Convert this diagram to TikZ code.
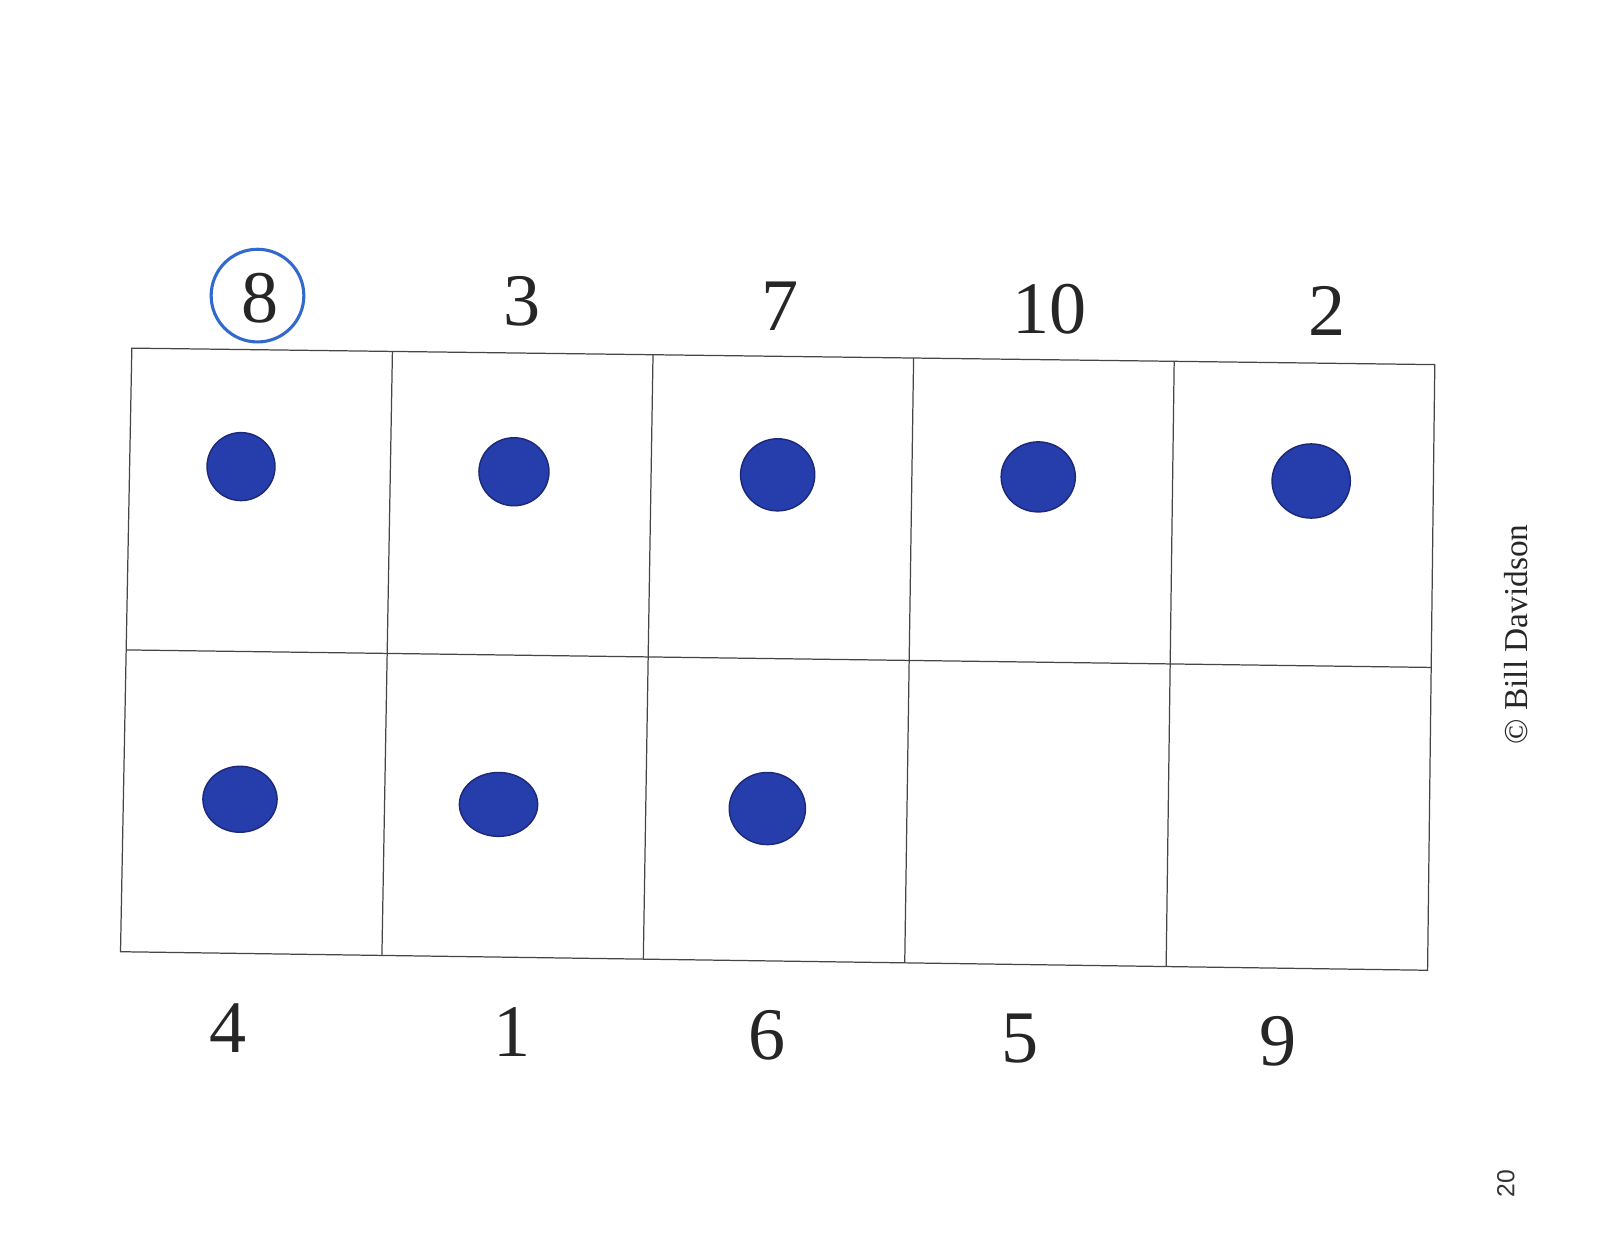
\documentclass[tikz,border=0pt]{standalone}
\usepackage{fontspec}
\usetikzlibrary{calc}
\setmainfont{Liberation Serif}
\newfontfamily\pagefont{Liberation Sans}
\definecolor{dotblue}{RGB}{38,62,172}
\definecolor{dotedge}{RGB}{28,40,120}
\definecolor{ringblue}{RGB}{50,105,205}
\definecolor{gridgray}{RGB}{70,70,70}
\begin{document}
\begin{tikzpicture}[x=0.5pt,y=-0.5pt,
  gridline/.style={draw=gridgray,line width=0.6pt},
  numlabel/.style={font=\fontsize{36}{40}\selectfont,text=black!85,inner sep=0pt,anchor=center},
  dot/.style={fill=dotblue,draw=dotedge,line width=0.7pt}]
\useasboundingbox (0,0) rectangle (1567,1203);
% corners of the grid (slightly rotated scan)
\coordinate (T0) at (128,338);
\coordinate (T5) at (1393,354);
\coordinate (M0) at (123,631);
\coordinate (M5) at (1390,648);
\coordinate (B0) at (117,924);
\coordinate (B5) at (1386,942);
% outer frame and middle line
\draw[gridline] (T0) -- (T5) -- (B5) -- (B0) -- cycle;
\draw[gridline] (M0) -- (M5);
% column separators
\foreach \i in {1,2,3,4}{
  \draw[gridline] ($(T0)!\i/5!(T5)$) -- ($(B0)!\i/5!(B5)$);
}
% dots
\path[dot] (234,453) ellipse [x radius=33,y radius=33];
\path[dot] (499,458) ellipse [x radius=34,y radius=33];
\path[dot] (755,461) ellipse [x radius=36,y radius=35];
\path[dot] (1008,463) ellipse [x radius=36,y radius=34];
\path[dot] (1273,467) ellipse [x radius=38,y radius=36];
\path[dot] (233,776) ellipse [x radius=36,y radius=32];
\path[dot] (484,781) ellipse [x radius=38,y radius=31];
\path[dot] (745,785) ellipse [x radius=37,y radius=35];
% top numbers
\node[numlabel] (n8) at (252,290) {8};
\node[numlabel] (n3) at (507,293) {3};
\node[numlabel] (n7) at (757,297) {7};
\node[numlabel] (n10) at (1019,300) {10};
\node[numlabel] (n2) at (1288,302) {2};
% circle round the 8
\draw[ringblue,line width=1.5pt] (250,287) circle [radius=45];
% bottom numbers
\node[numlabel] (n4) at (221,998) {4};
\node[numlabel] (n1) at (497,1002) {1};
\node[numlabel] (n6) at (745,1005) {6};
\node[numlabel] (n5) at (990,1008) {5};
\node[numlabel] (n9) at (1241,1011) {9};
% copyright
\node[rotate=90,font=\fontsize{16.2}{18}\selectfont,text=black!85,inner sep=0pt] (copy) at (1472,616) {© Bill Davidson};
% page number
\node[rotate=90,font=\pagefont\fontsize{12}{14}\selectfont,text=black!80,inner sep=0pt] (page) at (1462,1149) {20};
\end{tikzpicture}
\end{document}
